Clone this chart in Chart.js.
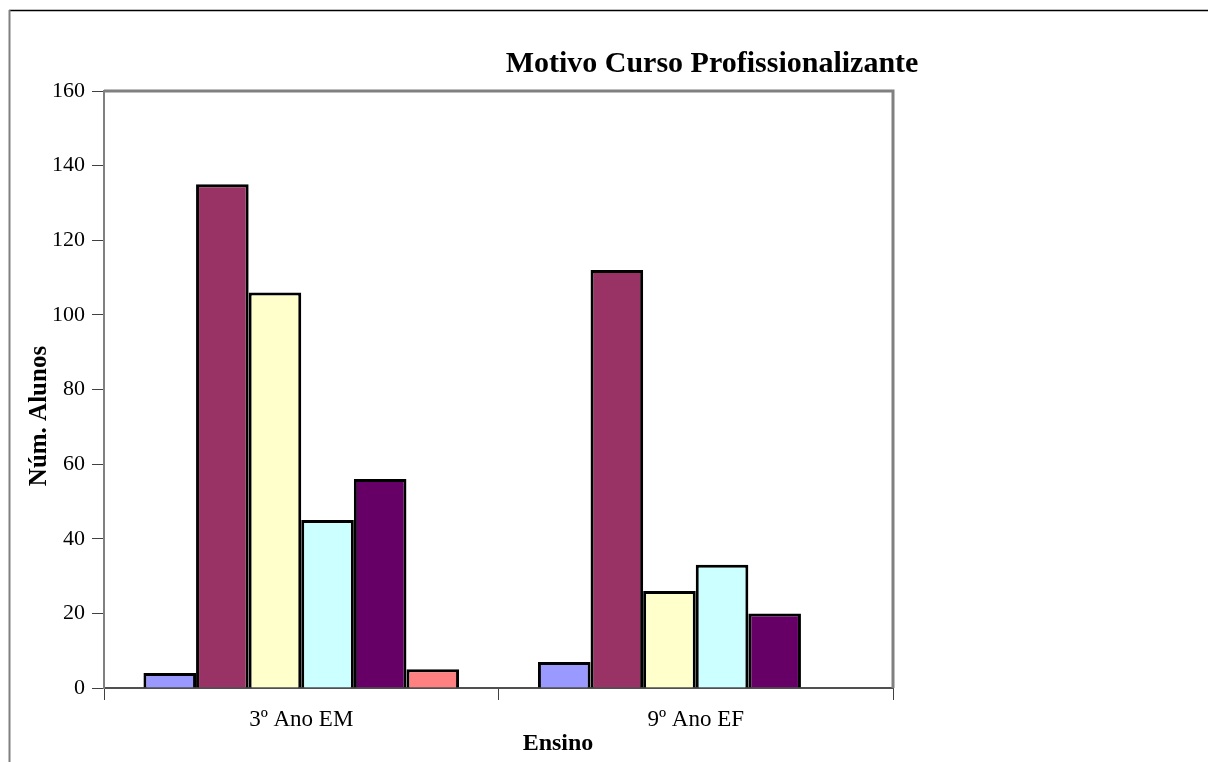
<!DOCTYPE html>
<html>
<head>
<meta charset="utf-8">
<script src="https://cdn.jsdelivr.net/npm/chart.js@4/dist/chart.umd.min.js"></script>
<style>
  html, body { margin: 0; padding: 0; background: #ffffff; }
  #wrap { width: 1208px; height: 762px; }
</style>
</head>
<body>
<div id="wrap"><canvas id="chart" width="1208" height="762"></canvas></div>
<script>
// Categories (school level) and counts per reason
const categories = ['3º Ano EM', '9º Ano EF'];
const motivo1 = [4, 7];
const motivo2 = [135, 112];
const motivo3 = [106, 26];
const motivo4 = [45, 33];
const motivo5 = [56, 20];
const motivo6 = [5, null];
const seriesNames = ['Motivo 1', 'Motivo 2', 'Motivo 3', 'Motivo 4', 'Motivo 5', 'Motivo 6'];
const seriesColors = ['#9999FF', '#993366', '#FFFFCC', '#CCFFFF', '#660066', '#FF8080'];
const yTicks = [0, 20, 40, 60, 80, 100, 120, 140, 160];

const chartTitle = 'Motivo Curso Profissionalizante';
const xTitle = 'Ensino';
const yTitle = 'Núm. Alunos';

const serif = '"Liberation Serif", "Times New Roman", serif';

const allSeries = [motivo1, motivo2, motivo3, motivo4, motivo5, motivo6];
const datasets = allSeries.map((vals, i) => ({
  label: seriesNames[i],
  data: vals,
  backgroundColor: seriesColors[i],
  borderColor: '#000000',
  borderWidth: 3,
  borderSkipped: 'start',
  categoryPercentage: 0.8,
  barPercentage: 1.0
}));

// Frame lines and free-standing titles
const decorations = {
  id: 'decorations',
  afterDraw(chart) {
    const ctx = chart.ctx;
    const a = chart.chartArea;
    ctx.save();
    // outer chart border (top and left visible)
    ctx.strokeStyle = '#000000';
    ctx.lineWidth = 1.5;
    ctx.beginPath();
    ctx.moveTo(9, 10.5);
    ctx.lineTo(1208, 10.5);
    ctx.stroke();
    ctx.strokeStyle = '#808080';
    ctx.lineWidth = 2;
    ctx.beginPath();
    ctx.moveTo(9.5, 10);
    ctx.lineTo(9.5, 762);
    ctx.stroke();
    // plot area frame: top and right
    ctx.strokeStyle = '#808080';
    ctx.lineWidth = 3;
    ctx.beginPath();
    ctx.moveTo(a.left, a.top);
    ctx.lineTo(a.right, a.top);
    ctx.lineTo(a.right, a.bottom);
    ctx.stroke();
    // titles
    ctx.fillStyle = '#000000';
    ctx.textAlign = 'center';
    ctx.textBaseline = 'alphabetic';
    ctx.font = 'bold 30px ' + serif;
    ctx.fillText(chartTitle, 712, 72);
    ctx.font = 'bold 24px ' + serif;
    ctx.fillText(xTitle, 558, 750);
    ctx.font = 'bold 25px ' + serif;
    ctx.translate(46, 416);
    ctx.rotate(-Math.PI / 2);
    ctx.fillText(yTitle, 0, 0);
    ctx.restore();
  }
};

new Chart(document.getElementById('chart'), {
  type: 'bar',
  data: { labels: categories, datasets },
  options: {
    responsive: false,
    animation: false,
    layout: { padding: { left: 10, right: 315, top: 91, bottom: 14 } },
    plugins: {
      legend: { display: false },
      title: { display: false },
      tooltip: { enabled: false }
    },
    scales: {
      x: {
        offset: true,
        afterFit(scale) { scale.height = 60; },
        grid: {
          offset: true,
          drawOnChartArea: false,
          drawTicks: true,
          tickLength: 12,
          color: '#404040',
          lineWidth: 1
        },
        border: { display: true, color: '#505050', width: 2 },
        ticks: {
          padding: 6,
          color: '#000000',
          font: { family: serif, size: 23 }
        }
      },
      y: {
        min: 0,
        max: 160,
        afterFit(scale) { scale.width = 94; },
        afterBuildTicks(scale) { scale.ticks = yTicks.map(v => ({ value: v })); },
        grid: {
          drawOnChartArea: false,
          drawTicks: true,
          tickLength: 12,
          color: '#404040',
          lineWidth: 1
        },
        border: { display: true, color: '#808080', width: 2 },
        ticks: {
          padding: 7,
          color: '#000000',
          font: { family: serif, size: 22 }
        }
      }
    }
  },
  plugins: [decorations]
});
</script>
</body>
</html>
